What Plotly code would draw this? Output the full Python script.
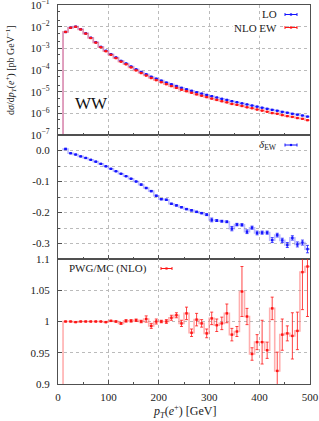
import plotly.graph_objects as go
from plotly.subplots import make_subplots

# ---------------- data ----------------
bin_lo = list(range(10, 500, 10))          # bin lower edges [GeV]
bin_hi = [b + 10 for b in bin_lo]
bin_mid = [b + 5 for b in bin_lo]

lo_xs = [5.69e-3, 8.99e-3, 1.00e-2, 7.59e-3, 4.90e-3, 3.09e-3, 1.91e-3, 1.17e-3, 7.76e-4, 5.37e-4,
         3.80e-4, 2.63e-4, 2.00e-4, 1.45e-4, 1.07e-4, 8.13e-5, 6.31e-5, 4.90e-5, 3.98e-5, 3.24e-5,
         2.63e-5, 2.19e-5, 1.82e-5, 1.51e-5, 1.29e-5, 1.10e-5, 9.33e-6, 8.13e-6, 7.08e-6, 6.17e-6,
         5.37e-6, 4.68e-6, 4.17e-6, 3.63e-6, 3.24e-6, 2.88e-6, 2.57e-6, 2.29e-6, 2.04e-6, 1.82e-6,
         1.62e-6, 1.45e-6, 1.32e-6, 1.17e-6, 1.07e-6, 9.55e-7, 8.71e-7, 7.94e-7, 7.08e-7]

nlo_ew_xs = [5.72e-3, 8.91e-3, 9.87e-3, 7.45e-3, 4.78e-3, 3.00e-3, 1.84e-3, 1.12e-3, 7.36e-4, 5.05e-4,
             3.55e-4, 2.43e-4, 1.83e-4, 1.32e-4, 9.63e-5, 7.24e-5, 5.55e-5, 4.26e-5, 3.40e-5, 2.73e-5,
             2.21e-5, 1.81e-5, 1.50e-5, 1.23e-5, 1.05e-5, 8.88e-6, 7.48e-6, 6.49e-6, 5.61e-6, 4.79e-6,
             4.16e-6, 3.61e-6, 3.21e-6, 2.72e-6, 2.47e-6, 2.19e-6, 1.90e-6, 1.72e-6, 1.50e-6, 1.34e-6,
             1.19e-6, 1.03e-6, 9.60e-7, 8.31e-7, 7.44e-7, 6.86e-7, 6.07e-7, 5.58e-7, 4.83e-7]

delta_ew = [0.005, -0.009, -0.013, -0.019, -0.024, -0.030, -0.036, -0.043, -0.051, -0.059,
            -0.067, -0.075, -0.083, -0.091, -0.100, -0.110, -0.121, -0.131, -0.146, -0.157,
            -0.159, -0.172, -0.177, -0.183, -0.189, -0.193, -0.198, -0.202, -0.207, -0.224,
            -0.226, -0.228, -0.230, -0.252, -0.239, -0.240, -0.262, -0.249, -0.266, -0.265,
            -0.265, -0.289, -0.273, -0.290, -0.305, -0.282, -0.303, -0.297, -0.318]
delta_err = [0.002, 0.001, 0.001, 0.001, 0.001, 0.001, 0.001, 0.001, 0.001, 0.001,
             0.001, 0.001, 0.001, 0.001, 0.001, 0.002, 0.002, 0.002, 0.002, 0.002,
             0.002, 0.002, 0.002, 0.002, 0.002, 0.002, 0.002, 0.002, 0.003, 0.006,
             0.003, 0.003, 0.003, 0.007, 0.004, 0.004, 0.006, 0.005, 0.006, 0.005,
             0.005, 0.008, 0.006, 0.007, 0.008, 0.007, 0.008, 0.008, 0.012]

ratio = [1.000, 1.000, 0.999, 1.000, 1.000, 1.000, 1.000, 1.000, 0.999, 1.001,
         1.000, 0.997, 1.001, 1.001, 1.002, 1.000, 1.004, 0.993, 1.000, 1.000,
         1.000, 1.006, 1.010, 0.997, 1.013, 0.982, 1.003, 0.997, 0.981, 1.005,
         0.994, 0.997, 1.013, 0.979, 0.984, 1.048, 1.008, 0.948, 0.967, 0.967,
         0.954, 1.021, 0.921, 0.979, 0.981, 0.977, 0.985, 1.079, 1.088]
ratio_err = [0.0005, 0.0005, 0.0005, 0.0005, 0.0005, 0.0005, 0.0005, 0.0005, 0.0008, 0.001,
             0.001, 0.0015, 0.002, 0.002, 0.002, 0.002, 0.005, 0.004, 0.004, 0.002,
             0.003, 0.004, 0.004, 0.005, 0.010, 0.006, 0.010, 0.006, 0.007, 0.010,
             0.010, 0.010, 0.015, 0.010, 0.008, 0.040, 0.013, 0.010, 0.012, 0.035,
             0.013, 0.018, 0.030, 0.025, 0.012, 0.037, 0.030, 0.060, 0.080]

x_ticks = [0, 100, 200, 300, 400, 500]

# ---------------- style ----------------
FONT = "Liberation Serif"
BLUE = "rgb(20,20,255)"
BLUE_L = "rgba(120,120,255,0.5)"
RED = "rgb(255,20,20)"
RED_L = "rgba(255,110,110,0.55)"
AX = "#505050"

fig = make_subplots(rows=3, cols=1, shared_xaxes=True, vertical_spacing=0,
                    row_heights=[130, 124, 125])


def step_trace(vals, floor, color, row):
    xs = [bin_lo[0]] + bin_lo + [bin_hi[-1]]
    ys = [floor] + list(vals) + [vals[-1]]
    fig.add_trace(go.Scatter(x=xs, y=ys, mode="lines", line=dict(color=color, width=1.6, shape="hv"),
                             showlegend=False, hoverinfo="skip"), row=row, col=1)


def err_trace(vals, err, color, row, percent=None):
    if percent is not None:
        ey = dict(type="percent", value=percent, color=color, thickness=0.8, width=1.5)
    else:
        ey = dict(type="data", array=err, color=color, thickness=0.8, width=1.5)
    fig.add_trace(go.Scatter(x=bin_mid, y=vals, mode="markers",
                             marker=dict(color=color, size=2.4, symbol="square"),
                             error_y=ey, showlegend=False), row=row, col=1)


# top panel
step_trace(lo_xs, 1e-9, BLUE_L, 1)
step_trace(nlo_ew_xs, 1e-9, RED_L, 1)
err_trace(lo_xs, None, BLUE, 1, percent=1.5)
err_trace(nlo_ew_xs, None, RED, 1, percent=1.5)

# middle panel
step_trace(delta_ew, 0.0, BLUE_L, 2)
err_trace(delta_ew, delta_err, BLUE, 2)

# bottom panel
step_trace(ratio, 0.0, RED_L, 3)
err_trace(ratio, ratio_err, RED, 3)

axis_common = dict(showline=True, mirror=True, linecolor=AX, linewidth=1.3,
                   ticks="inside", ticklen=4, tickcolor=AX, automargin=False,
                   ticklabeloverflow="allow",
                   showgrid=True, gridcolor="#bbbbbb", griddash="dot", gridwidth=1,
                   zeroline=False, tickfont=dict(family=FONT, size=11, color="#222"))

for r in (1, 2, 3):
    fig.update_xaxes(range=[0, 500], tickvals=x_ticks, showticklabels=(r == 3),
                     minor=dict(ticks="inside", ticklen=2, dtick=50, tickcolor=AX),
                     **axis_common, row=r, col=1)

fig.update_xaxes(ticklabelstandoff=3, row=3, col=1)

fig.update_yaxes(type="log", range=[-7, -1], tickvals=[1e-7, 1e-6, 1e-5, 1e-4, 1e-3, 1e-2, 1e-1],
                 ticktext=["10<sup>−7</sup>", "10<sup>−6</sup>", "10<sup>−5</sup>", "10<sup>−4</sup>",
                           "10<sup>−3</sup>", "10<sup>−2</sup>", "10<sup>−1</sup>"],
                 minor=dict(ticks="inside", ticklen=2, tickcolor=AX, showgrid=False),
                 ticklabelstandoff=5, **axis_common, row=1, col=1)

fig.update_yaxes(range=[-0.35, 0.05], tickvals=[0.0, -0.1, -0.2, -0.3],
                 ticktext=["0.0", "-0.1", "-0.2", "-0.3"], ticklabelstandoff=5,
                 minor=dict(ticks="inside", ticklen=2, tickvals=[-0.05, -0.15, -0.25], tickcolor=AX,
                            showgrid=True, gridcolor="#bbbbbb", griddash="dot"),
                 **axis_common, row=2, col=1)

fig.update_yaxes(range=[0.9, 1.1], tickvals=[0.9, 0.95, 1.0, 1.05, 1.1],
                 ticktext=["0.9", "0.95", "1", "1.05", "1.1"], ticklabelstandoff=5,
                 **axis_common, row=3, col=1)

# ---------------- legends / labels (pixel -> paper helpers) ----------------
L, R, T, B = 58, 9, 5, 37
W, H = 319, 421
PW, PH = W - L - R, H - T - B


def px(x):
    return (x - L) / PW


def py(y):
    return (H - B - y) / PH


def legend_entry(text, tx, ty, sx0, sx1, color):
    fig.add_annotation(x=px(tx), y=py(ty), xref="paper", yref="paper", text=text, showarrow=False,
                       xanchor="right", yanchor="middle", bgcolor="white",
                       font=dict(family=FONT, size=11, color="#222"))
    fig.add_shape(type="line", x0=px(sx0), x1=px(sx1), y0=py(ty), y1=py(ty), xref="paper", yref="paper",
                  line=dict(color=color, width=1))
    for sx in (sx0, sx1):
        fig.add_shape(type="line", x0=px(sx), x1=px(sx), y0=py(ty - 1.5), y1=py(ty + 1.5),
                      xref="paper", yref="paper", line=dict(color=color, width=1))
    fig.add_shape(type="rect", x0=px((sx0 + sx1) / 2 - 1.1), x1=px((sx0 + sx1) / 2 + 1.1),
                  y0=py(ty - 1.1), y1=py(ty + 1.1), xref="paper", yref="paper",
                  fillcolor=color, line=dict(width=0))


legend_entry("LO", 279, 14.5, 285, 297, BLUE)
legend_entry("NLO EW", 279, 27.5, 285, 297, RED)
legend_entry("<i>δ</i><sub>EW</sub>", 279, 145, 285, 297, BLUE)

fig.add_annotation(x=px(67), y=py(268.5), xref="paper", yref="paper", text="PWG/MC (NLO)",
                   showarrow=False, xanchor="left", yanchor="middle", bgcolor="white",
                   font=dict(family=FONT, size=11, color="#222"))
sx0, sx1, ty = 161, 172, 268.5
fig.add_shape(type="line", x0=px(sx0), x1=px(sx1), y0=py(ty), y1=py(ty), xref="paper", yref="paper",
              line=dict(color=RED, width=1))
for sx in (sx0, sx1):
    fig.add_shape(type="line", x0=px(sx), x1=px(sx), y0=py(ty - 1.5), y1=py(ty + 1.5),
                  xref="paper", yref="paper", line=dict(color=RED, width=1))
fig.add_shape(type="rect", x0=px(166.5 - 1.1), x1=px(166.5 + 1.1), y0=py(ty - 1.1), y1=py(ty + 1.1),
              xref="paper", yref="paper", fillcolor=RED, line=dict(width=0))

fig.add_annotation(x=px(91), y=py(103), xref="paper", yref="paper", text="WW", showarrow=False,
                   xanchor="center", yanchor="middle", font=dict(family=FONT, size=17, color="#111"))

# axis titles
fig.add_annotation(x=px(184), y=py(411), xref="paper", yref="paper",
                   text="<i>p</i><sub><i>T</i></sub>(<i>e</i><sup>+</sup>) [GeV]", showarrow=False,
                   xanchor="center", yanchor="middle", font=dict(family=FONT, size=12, color="#222"))
fig.add_annotation(x=px(11), y=py(70), xref="paper", yref="paper", textangle=-90,
                   text="d<i>σ</i>/d<i>p</i><sub><i>T</i></sub>(<i>e</i><sup>+</sup>) [pb GeV<sup>−1</sup>]",
                   showarrow=False, xanchor="center", yanchor="middle",
                   font=dict(family=FONT, size=10, color="#222"))

fig.update_layout(width=W, height=H, margin=dict(l=L, r=R, t=T, b=B, autoexpand=False),
                  paper_bgcolor="white", plot_bgcolor="white", showlegend=False,
                  font=dict(family=FONT, color="#222"))

fig.write_html("out.html", config={"displayModeBar": False},
               post_script="document.body.style.margin='0';document.body.style.overflow='hidden';")
